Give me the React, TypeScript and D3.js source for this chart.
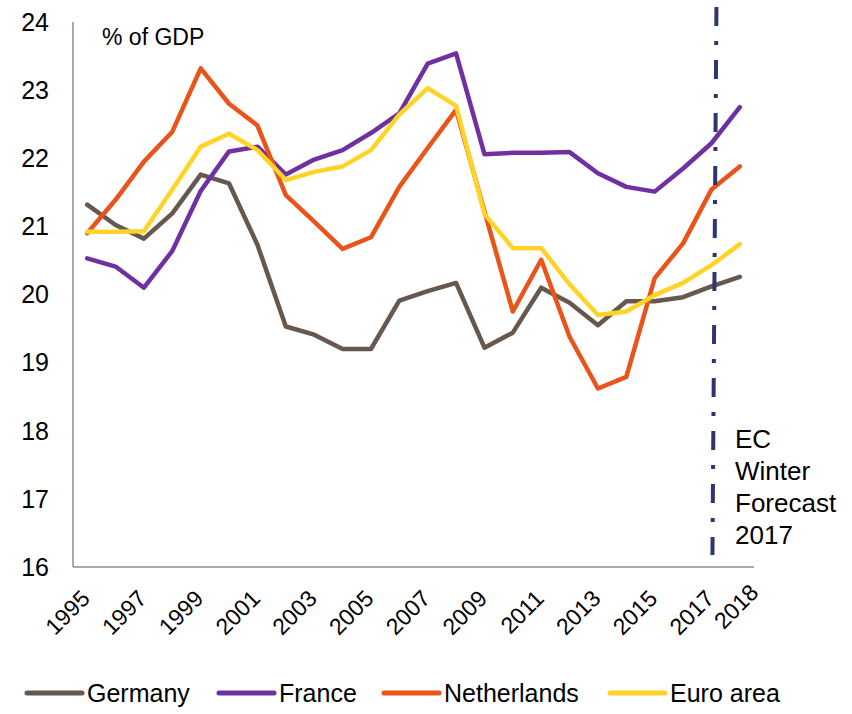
import React from "react";
import * as d3 from "d3";

const years = d3.range(1995, 2019);
const germany = [21.32, 21.02, 20.82, 21.19, 21.76, 21.63, 20.73, 19.53, 19.41, 19.2, 19.2, 19.91, 20.05, 20.17, 19.22, 19.44, 20.1, 19.88, 19.55, 19.9, 19.9, 19.96, 20.12, 20.26];
const france = [20.53, 20.41, 20.1, 20.64, 21.52, 22.1, 22.17, 21.76, 21.98, 22.12, 22.37, 22.66, 23.39, 23.54, 22.06, 22.08, 22.08, 22.09, 21.78, 21.58, 21.51, 21.85, 22.22, 22.75];
const netherlands = [20.9, 21.39, 21.95, 22.39, 23.32, 22.8, 22.48, 21.46, 21.07, 20.67, 20.84, 21.58, 22.15, 22.71, 21.22, 19.75, 20.51, 19.38, 18.62, 18.79, 20.24, 20.75, 21.54, 21.88];
const euroArea = [20.92, 20.92, 20.93, 21.54, 22.17, 22.36, 22.12, 21.68, 21.8, 21.88, 22.12, 22.64, 23.03, 22.77, 21.18, 20.68, 20.68, 20.15, 19.7, 19.75, 19.99, 20.17, 20.43, 20.74];

const seriesNames = ["Germany", "France", "Netherlands", "Euro area"];
const seriesColors = ["#67584e", "#7030a0", "#e8541a", "#ffd426"];
const yTicks = [16, 17, 18, 19, 20, 21, 22, 23, 24];
const xTickLabels = [1995, 1997, 1999, 2001, 2003, 2005, 2007, 2009, 2011, 2013, 2015, 2017, 2018];
const forecastYear = 2017;
const annotationLines = ["EC", "Winter", "Forecast", "2017"];
const unitLabel = "% of GDP";

const W = 852;
const H = 714;
const FONT = "'Liberation Sans', Arial, sans-serif";

export default function App() {
  const x = d3.scalePoint<number>().domain(years).range([73, 754]).padding(0.5);
  const y = d3.scaleLinear().domain([16, 24]).range([567, 22]);
  const data = [germany, france, netherlands, euroArea];
  const line = d3
    .line<number>()
    .x((_, i) => x(years[i]) as number)
    .y((v) => y(v));

  const legendX = [27, 219, 384, 610];
  const fx = (x(forecastYear) as number) + 3;

  return (
    <svg
      width={W}
      height={H}
      style={{ position: "absolute", left: 0, top: 0, background: "#fff" }}
      fontFamily={FONT}
    >
      {/* axes */}
      <line x1={73} x2={73} y1={22} y2={567} stroke="#8c8c8c" strokeWidth={1.5} />
      <line x1={73} x2={754} y1={567} y2={567} stroke="#8c8c8c" strokeWidth={1.5} />

      {yTicks.map((t) => (
        <text key={t} x={49} y={y(t)} dy="0.35em" textAnchor="end" fontSize={25} fill="#000">
          {t}
        </text>
      ))}

      {xTickLabels.map((yr) => {
        const px = (x(yr) as number) + (yr === 2018 ? 20 : 4);
        const py = yr === 2018 ? 594 : 600;
        return (
          <text
            key={yr}
            transform={`translate(${px},${py}) rotate(-45)`}
            textAnchor="end"
            fontSize={23}
            fill="#000"
          >
            {yr}
          </text>
        );
      })}

      <text x={102} y={45} fontSize={23} fill="#000">
        {unitLabel}
      </text>

      {/* series */}
      {data.map((d, i) => (
        <path
          key={seriesNames[i]}
          d={line(d) || ""}
          fill="none"
          stroke={seriesColors[i]}
          strokeWidth={4.5}
          strokeLinejoin="round"
          strokeLinecap="round"
        />
      ))}

      {/* forecast marker */}
      <line
        x1={fx + 2}
        x2={fx - 2}
        y1={7}
        y2={555}
        stroke="#2e3570"
        strokeWidth={4}
        strokeDasharray="19 15 4 15"
      />
      {annotationLines.map((t, i) => (
        <text key={t} x={735} y={448 + i * 32} fontSize={26} fill="#000">
          {t}
        </text>
      ))}

      {/* legend */}
      {seriesNames.map((n, i) => (
        <g key={n}>
          <line
            x1={legendX[i]}
            x2={legendX[i] + 55}
            y1={693}
            y2={693}
            stroke={seriesColors[i]}
            strokeWidth={5}
            strokeLinecap="round"
          />
          <text x={legendX[i] + 60} y={702} fontSize={25} fill="#000">
            {n}
          </text>
        </g>
      ))}
    </svg>
  );
}
